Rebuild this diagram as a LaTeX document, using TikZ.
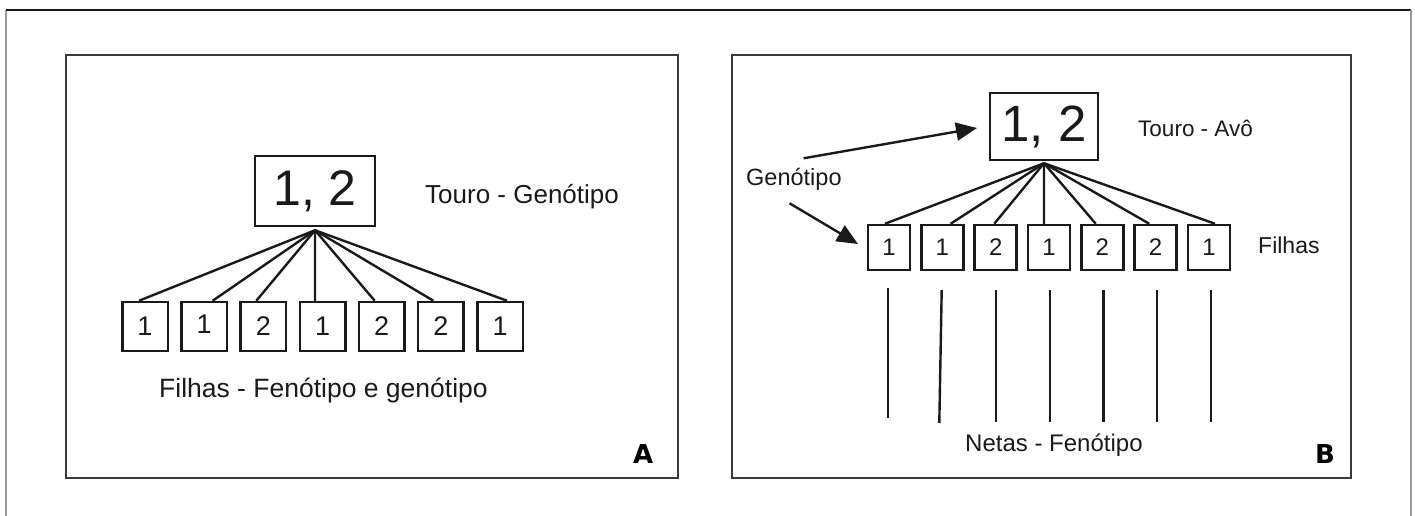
\documentclass[tikz,border=0pt]{standalone}
\usepackage{fontspec}
\setmainfont{Liberation Sans}
\newfontfamily\labfont{DejaVu Sans}
\usetikzlibrary{arrows.meta,calc}
\definecolor{ink}{HTML}{1A1A1A}
\definecolor{framegray}{HTML}{9A9A9A}
\definecolor{paneledge}{HTML}{3A3A3A}
\newcommand\fsz[1]{\fontsize{#1}{#1}\selectfont}
\begin{document}
\begin{tikzpicture}[x=1pt,y=-1pt,
  bigbox/.style={draw=ink,line width=2.5pt,inner sep=0pt,text=ink},
  smallbox/.style={draw=ink,line width=2.5pt,inner sep=0pt,text=ink},
  conn/.style={draw=ink,line width=2.4pt},
  netline/.style={draw=ink,line width=2.4pt},
  pointer/.style={draw=ink,line width=2.4pt,-{Triangle[length=21pt,width=18pt]}},
  lbl/.style={inner sep=0pt,anchor=base west,text=ink},
  panellbl/.style={inner sep=0pt,anchor=base west,text=black,font=\labfont\bfseries\fsz{26}}]
\useasboundingbox (0,0) rectangle (1415,516);
% outer frame
\draw[framegray,line width=2pt] (6,516) -- (6,10);
\draw[ink,line width=1.8pt] (6,10) -- (1411,10);
\draw[framegray,line width=2pt] (1411,10) -- (1411,516);
% panels
\draw[paneledge,line width=1.6pt] (66,55) rectangle (678,478);
\draw[paneledge,line width=1.6pt] (732,55) rectangle (1351,478);

% ---------- Panel A ----------
\node[bigbox,minimum width=120pt,minimum height=70pt,font=\fsz{50}] (topA) at (315,191) {1, 2};
\node[lbl,font=\fsz{26}] (touroA) at (425,203) {Touro - Genótipo};
\coordinate (apexA) at ([yshift=-3pt]topA.south);
\foreach \i/\d in {0/1,1/\raisebox{4pt}{1},2/2,3/1,4/2,5/2,6/1}
  \node[smallbox,minimum width=45.5pt,minimum height=49pt,font=\fsz{27}] (a\i) at ({145+59.17*\i},326.5) {\d};
\foreach \i/\dx in {0/-6,1/8.5,2/-7,3/-7.5,4/-7,5/-7.5,6/7}
  \draw[conn] (apexA) -- ([xshift=\dx pt]a\i.north);
\node[lbl,font=\fsz{26.5}] (filhasA) at (159,397) {Filhas - Fenótipo e genótipo};
\node[panellbl] (labA) at (633,463) {A};

% ---------- Panel B ----------
\node[bigbox,minimum width=108pt,minimum height=67pt,font=\fsz{51}] (topB) at (1044,126.5) {1, 2};
\node[lbl,font=\fsz{22.5}] (touroB) at (1138,136) {Touro - Avô};
\coordinate (apexB) at ([yshift=-2pt]topB.south);
\foreach \i/\d in {0/1,1/1,2/2,3/1,4/2,5/2,6/1}
  \node[smallbox,minimum width=42pt,minimum height=45pt,font=\fsz{24}] (b\i) at ({889+53.33*\i},247.5) {\d};
\foreach \i/\dx in {0/-4,1/8.3,2/-1.4,3/-5,4/-6.6,5/-6.4,6/6}
  \draw[conn] (apexB) -- ([xshift=\dx pt]b\i.north);
\node[lbl,font=\fsz{23}] (filhasB) at (1258,253) {Filhas};
\node[lbl,font=\fsz{23.5}] (gen) at (746,185) {Genótipo};
\coordinate (t1) at (803.5,158.3);
\coordinate (h1) at (977,128);
\coordinate (t2) at (789.6,203.3);
\coordinate (h2) at (858,244);
\draw[pointer] (t1) -- (h1);
\draw[pointer] (t2) -- (h2);
% granddaughter lines
\foreach \xa/\xb/\ya/\yb in {887.7/887.7/288/418, 941.7/939.3/290/423, 995.7/995.7/290/422, 1050/1050/290/422, 1103.3/1103.3/290/422, 1156.7/1156.7/290/422, 1211/1211/290/422}
  \draw[netline] (\xa,\ya) -- (\xb,\yb);
\node[lbl,font=\fsz{24}] (netas) at (965,451) {Netas - Fenótipo};
\node[panellbl] (labB) at (1315,463) {B};
\end{tikzpicture}
\end{document}
